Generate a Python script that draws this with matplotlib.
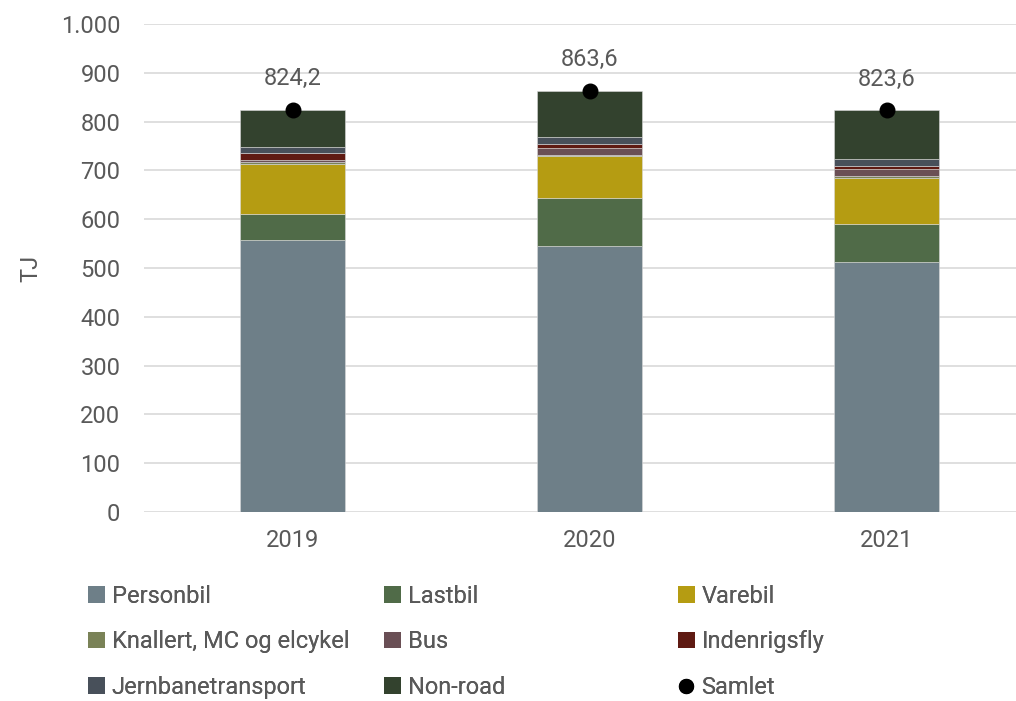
import matplotlib
matplotlib.use("Agg")
import matplotlib.pyplot as plt
from matplotlib.patches import Patch
from matplotlib.lines import Line2D
import numpy as np

plt.rcParams['font.family'] = ['Roboto', 'DejaVu Sans']

years = ['2019', '2020', '2021']
personbil = [557, 545, 512]
lastbil = [53, 98, 79]
varebil = [104, 86.5, 94]
knallert = [3, 3, 3]
bus = [4, 14, 14]
indenrigsfly = [14, 7.5, 7.5]
jernbane = [13, 15, 14]
samlet = [824.2, 863.6, 823.6]
# non-road is what is left up to the total
non_road = [round(t - (p + l + v + k + b + i + j), 1) for t, p, l, v, k, b, i, j in
            zip(samlet, personbil, lastbil, varebil, knallert, bus, indenrigsfly, jernbane)]

series = [
    ('Personbil', personbil, '#6e7f88'),
    ('Lastbil', lastbil, '#506b48'),
    ('Varebil', varebil, '#b59c12'),
    ('Knallert, MC og elcykel', knallert, '#7a8257'),
    ('Bus', bus, '#6a4f55'),
    ('Indenrigsfly', indenrigsfly, '#5f1a12'),
    ('Jernbanetransport', jernbane, '#48505a'),
    ('Non-road', non_road, '#33422e'),
]

txt = '#595959'
fs = 17
fig = plt.figure(figsize=(10.16, 7.01), dpi=100)
ax = fig.add_axes([144 / 1016, 1 - 512 / 701, 1 - 144 / 1016, 488 / 701])

x = np.arange(len(years))
bottom = np.zeros(len(years))
for name, vals, col in series:
    ax.bar(x, vals, 0.355, bottom=bottom, color=col, edgecolor='#d9d9d9',
           linewidth=0.4, zorder=2)
    bottom += np.array(vals)

ax.scatter(x, samlet, s=110, color='black', zorder=4)
for xi, v in zip(x, samlet):
    ax.annotate(f'{v:.1f}'.replace('.', ','), (xi, v), xytext=(0, 14),
                textcoords='offset points', ha='center', va='bottom',
                fontsize=fs, color=txt)

ax.set_ylim(0, 1000)
ax.set_xlim(-0.5, 2.436)
ax.set_yticks(range(0, 1001, 100))
ax.set_yticklabels([f'{v:,}'.replace(',', '.') for v in range(0, 1001, 100)])
ax.set_xticks(x)
ax.set_xticklabels(years)
ax.tick_params(length=0, labelsize=fs, labelcolor=txt)
ax.tick_params(axis='y', pad=17)
ax.tick_params(axis='x', pad=12)
ax.grid(axis='y', color='#d9d9d9', linewidth=1.2, zorder=0)
for s in ax.spines.values():
    s.set_visible(False)
ax.set_ylabel('TJ', fontsize=fs, color=txt)
ax.yaxis.set_label_coords(-102 / 872, 0.5)

# legend laid out as three columns of three entries
handles = [Patch(facecolor=c, edgecolor='none') for _, _, c in series]
labels = [n for n, _, _ in series]
handles.append(Line2D([], [], marker='o', linestyle='none', color='black', markersize=10))
labels.append('Samlet')
col_x = [88, 384, 678]
for c in range(3):
    idx = [c, c + 3, c + 6]
    leg = fig.legend([handles[i] for i in idx], [labels[i] for i in idx],
                     loc='upper left', bbox_to_anchor=(col_x[c] / 1016, 1 - 585 / 701),
                     frameon=False, fontsize=fs, handlelength=0.7, handleheight=0.7,
                     handletextpad=0.3, labelspacing=0.95, borderpad=0, borderaxespad=0,
                     labelcolor=txt)
    fig.add_artist(leg)

fig.savefig('out.png', dpi=100)
